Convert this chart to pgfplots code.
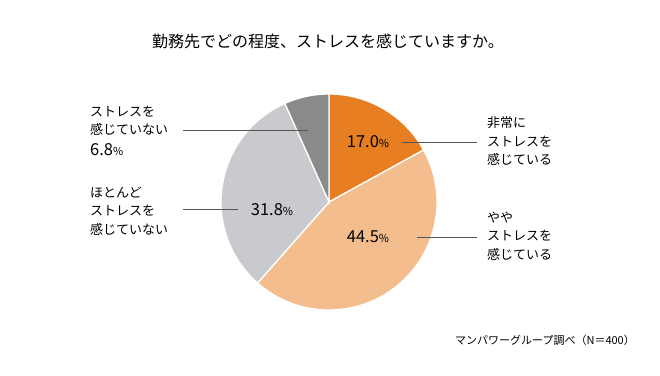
\documentclass[border=0pt]{standalone}
\usepackage{fontspec}
\setmainfont{Noto Sans CJK JP}
\usepackage{pgfplots}
\pgfplotsset{compat=1.18}
\usepgfplotslibrary{polar}
\usepackage{pgfplotstable}

\definecolor{cA}{HTML}{E87E22}
\definecolor{cB}{HTML}{F4BD8E}
\definecolor{cC}{HTML}{C9CACD}
\definecolor{cD}{HTML}{8A8A8A}
\definecolor{lead}{HTML}{555555}

\pgfplotstableread{
label value
A 17.0
B 44.5
C 31.8
D 6.8
}\piedata

\newcommand{\pct}[1]{{\fontsize{16.5}{16.5}\selectfont #1}{\fontsize{11}{11}\selectfont\%}}

\begin{document}
\begin{tikzpicture}[x=1pt,y=1pt]
\useasboundingbox (0,0) rectangle (660,375);
\pgfplotstablegetelem{0}{value}\of\piedata \let\va\pgfplotsretval
\pgfplotstablegetelem{1}{value}\of\piedata \let\vb\pgfplotsretval
\pgfplotstablegetelem{2}{value}\of\piedata \let\vc\pgfplotsretval
\pgfmathsetmacro{\eA}{90-3.6*\va}
\pgfmathsetmacro{\eB}{\eA-3.6*\vb}
\pgfmathsetmacro{\eC}{\eB-3.6*\vc}
\begin{polaraxis}[at={(329pt,173pt)}, anchor=origin, width=216pt, height=216pt,
  scale only axis, hide axis, ymin=0, ymax=1, clip=false]
\addplot[fill=cA, draw=white, line width=1.3pt, domain=\eA:90, samples=60] {1} -- (0,0) -- cycle;
\addplot[fill=cB, draw=white, line width=1.3pt, domain=\eB:\eA, samples=80] {1} -- (0,0) -- cycle;
\addplot[fill=cC, draw=white, line width=1.3pt, domain=\eC:\eB, samples=70] {1} -- (0,0) -- cycle;
\addplot[fill=cD, draw=white, line width=1.3pt, domain=-270:\eC, samples=30] {1} -- (0,0) -- cycle;
\end{polaraxis}

% title
\node[font=\fontsize{16}{16}\selectfont] at (328,334) {勤務先でどの程度、ストレスを感じていますか。};

% leader lines
\draw[lead, line width=0.8pt] (402,233) -- (477,233);
\draw[lead, line width=0.8pt] (417,138) -- (477,138);
\draw[lead, line width=0.8pt] (183,245) -- (308,245);
\draw[lead, line width=0.8pt] (183,166) -- (238,166);

% percentages
\node at (368,233) {\pct{17.0}};
\node at (368,138) {\pct{44.5}};
\node at (272,165) {\pct{31.8}};
\node[anchor=west, inner sep=0pt] at (90,225) {\pct{6.8}};

% category labels
\node[anchor=west, align=left, inner sep=0pt, font=\fontsize{13}{18.5}\selectfont] at (487,234) {非常に\\ストレスを\\感じている};
\node[anchor=west, align=left, inner sep=0pt, font=\fontsize{13}{18.5}\selectfont] at (487,139) {やや\\ストレスを\\感じている};
\node[anchor=west, align=left, inner sep=0pt, font=\fontsize{13}{18.5}\selectfont] at (90,254) {ストレスを\\感じていない};
\node[anchor=west, align=left, inner sep=0pt, font=\fontsize{13}{18.5}\selectfont] at (90,164) {ほとんど\\ストレスを\\感じていない};

% source
\node[anchor=west, inner sep=0pt, font=\fontsize{11}{11}\selectfont] at (455,35) {マンパワーグループ調べ（N＝400）};
\end{tikzpicture}
\end{document}
